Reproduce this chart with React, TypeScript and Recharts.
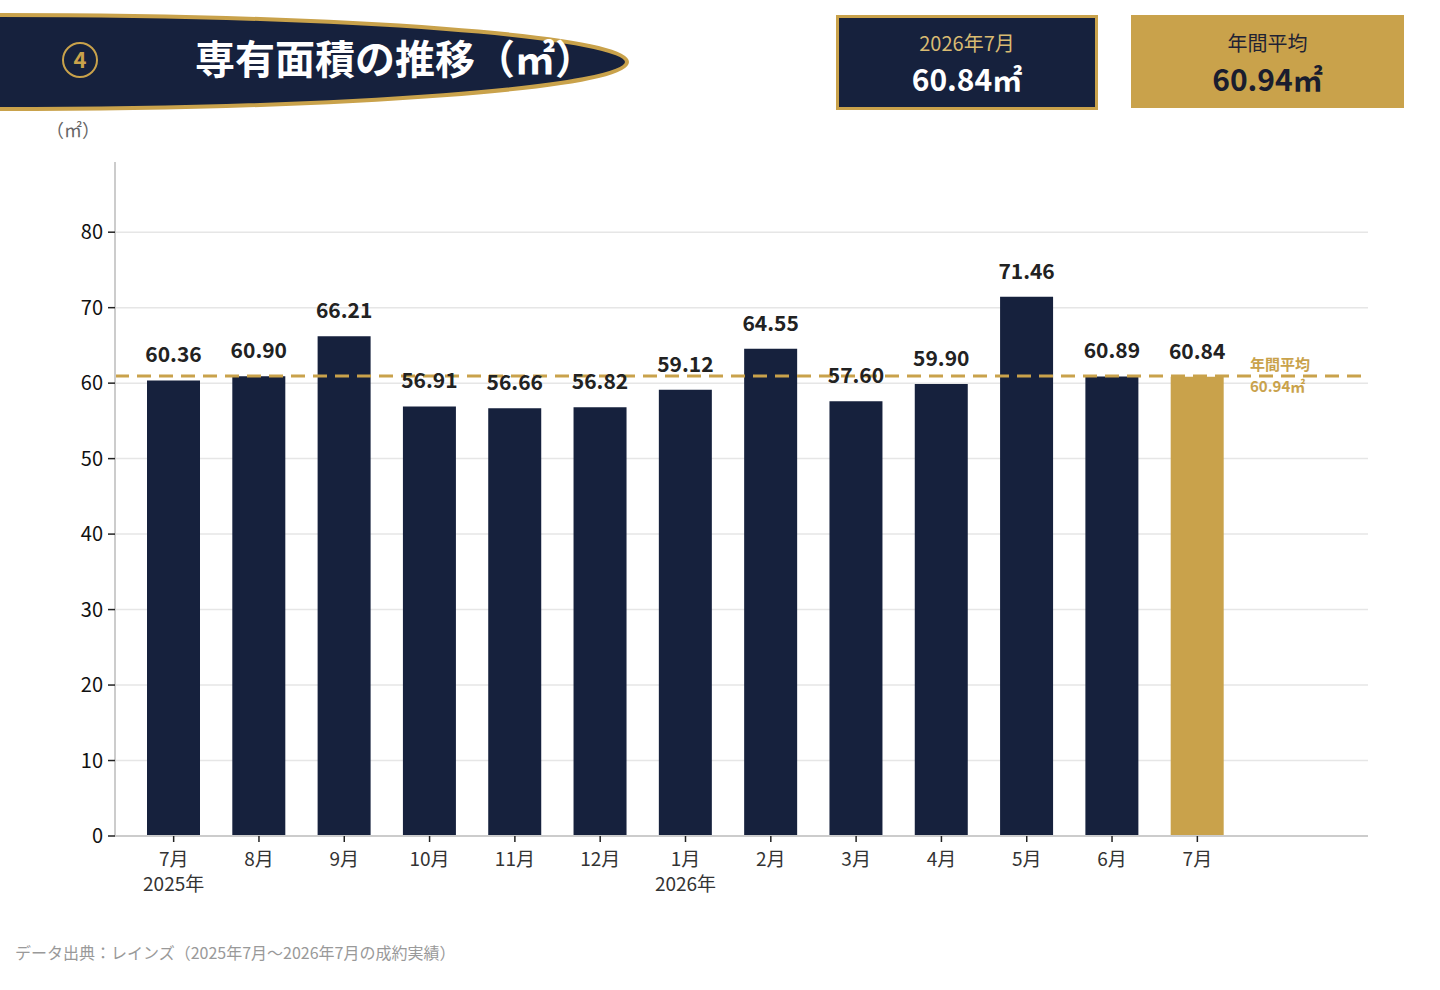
import React from 'react';
import { BarChart, Bar, XAxis, YAxis, CartesianGrid, ReferenceLine, LabelList, Cell } from 'recharts';

const months = ['7月', '8月', '9月', '10月', '11月', '12月', '1月', '2月', '3月', '4月', '5月', '6月', '7月'];
const years = ['2025年', '', '', '', '', '', '2026年', '', '', '', '', '', ''];
const areas = [60.36, 60.9, 66.21, 56.91, 56.66, 56.82, 59.12, 64.55, 57.6, 59.9, 71.46, 60.89, 60.84];
const yTicks = [0, 10, 20, 30, 40, 50, 60, 70, 80];
const annualAverage = 60.94;

const NAVY = '#16213D';
const GOLD = '#C9A24B';
const FONT = '"Noto Sans CJK JP", "Noto Sans", sans-serif';

const data = months.map((m, i) => ({ key: `${i}`, month: m, year: years[i], area: areas[i] }));

const MonthTick = (props: any) => {
  const { x, y, payload } = props;
  const row = data[payload.index];
  return (
    <g transform={`translate(${x},${y})`}>
      <text x={0} y={0} dy={22} textAnchor="middle" fill="#333" fontSize={19} fontFamily={FONT}>
        {row.month}
      </text>
      {row.year && (
        <text x={0} y={0} dy={47} textAnchor="middle" fill="#333" fontSize={19} fontFamily={FONT}>
          {row.year}
        </text>
      )}
    </g>
  );
};

const AverageLabel = (props: any) => {
  const { viewBox } = props;
  const x = viewBox.x + viewBox.width - 118;
  return (
    <g>
      <text x={x} y={viewBox.y - 6} fill={GOLD} fontSize={15} fontWeight={700} fontFamily={FONT}>
        年間平均
      </text>
      <text x={x} y={viewBox.y + 16} fill={GOLD} fontSize={15} fontWeight={700} fontFamily={FONT}>
        60.94㎡
      </text>
    </g>
  );
};

const App: React.FC = () => {
  return (
    <div style={{ position: 'absolute', left: 0, top: 0, width: 1440, height: 990, background: '#fff', fontFamily: FONT, overflow: 'hidden' }}>
      {/* header banner */}
      <svg width={700} height={120} style={{ position: 'absolute', left: 0, top: 0 }}>
        <ellipse cx={0} cy={62} rx={627} ry={47} fill={NAVY} stroke={GOLD} strokeWidth={4} />
        <circle cx={80} cy={60} r={17} fill="none" stroke={GOLD} strokeWidth={2} />
        <text x={80} y={68} textAnchor="middle" fill={GOLD} fontSize={22} fontWeight={700} fontFamily={FONT}>4</text>
        <text x={195} y={74} fill="#fff" fontSize={40} fontWeight={700} fontFamily={FONT}>専有面積の推移（㎡）</text>
      </svg>

      {/* summary boxes */}
      <div style={{ position: 'absolute', left: 836, top: 15, width: 262, height: 95, boxSizing: 'border-box', background: NAVY, border: `3px solid ${GOLD}`, textAlign: 'center' }}>
        <div style={{ color: '#D9BB72', fontSize: 20, marginTop: 11, lineHeight: '28px' }}>2026年7月</div>
        <div style={{ color: '#fff', fontSize: 30, fontWeight: 700, lineHeight: '42px' }}>60.84㎡</div>
      </div>
      <div style={{ position: 'absolute', left: 1131, top: 15, width: 273, height: 93, boxSizing: 'border-box', background: GOLD, textAlign: 'center' }}>
        <div style={{ color: '#1f2233', fontSize: 20, marginTop: 14, lineHeight: '28px' }}>年間平均</div>
        <div style={{ color: '#1a1d2e', fontSize: 30, fontWeight: 700, lineHeight: '42px' }}>60.94㎡</div>
      </div>

      <div style={{ position: 'absolute', left: 46, top: 116, color: '#666', fontSize: 18 }}>（㎡）</div>

      <div style={{ position: 'absolute', left: 0, top: 0 }}>
        <BarChart
          width={1440}
          height={990}
          data={data}
          margin={{ top: 162, right: 72, bottom: 94, left: 55 }}
          barCategoryGap={0}
        >
          <CartesianGrid vertical={false} stroke="#e6e6e6" strokeWidth={1.5} syncWithTicks />
          <XAxis
            dataKey="key"
            height={60}
            tick={<MonthTick />}
            tickLine={{ stroke: '#222', strokeWidth: 1.5 }}
            tickSize={6}
            axisLine={{ stroke: '#cccccc', strokeWidth: 2 }}
            padding={{ left: 16, right: 128 }}
            interval={0}
          />
          <YAxis
            width={60}
            domain={[0, 89.3]}
            ticks={yTicks}
            allowDataOverflow
            tick={{ fill: '#111', fontSize: 20, fontFamily: FONT }}
            tickLine={{ stroke: '#222', strokeWidth: 1.5 }}
            tickSize={7}
            tickMargin={5}
            axisLine={{ stroke: '#cccccc', strokeWidth: 2 }}
          />
          <Bar dataKey="area" barSize={53} isAnimationActive={false}>
            {data.map((d, i) => (
              <Cell key={d.key} fill={i === data.length - 1 ? GOLD : NAVY} />
            ))}
            <LabelList
              dataKey="area"
              position="top"
              offset={18}
              formatter={(v: any) => Number(v).toFixed(2)}
              style={{ fill: '#222', fontSize: 21, fontWeight: 700, fontFamily: FONT }}
            />
          </Bar>
          <ReferenceLine
            y={annualAverage}
            stroke={GOLD}
            strokeWidth={3}
            strokeDasharray="14 8"
            label={<AverageLabel />}
          />
        </BarChart>
      </div>

      <div style={{ position: 'absolute', left: 15, top: 940, color: '#999', fontSize: 16 }}>
        データ出典：レインズ（2025年7月〜2026年7月の成約実績）
      </div>
    </div>
  );
};

export default App;
